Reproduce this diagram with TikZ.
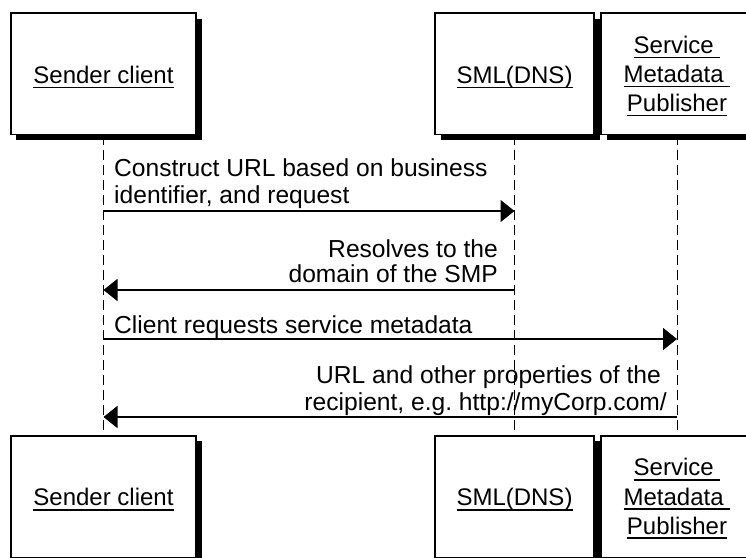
\documentclass[tikz,border=0pt]{standalone}
\usepackage{fontspec}
\setmainfont{Liberation Sans}
\usetikzlibrary{arrows.meta,shadows}
\frenchspacing
\newsavebox\ulsavebox
\newcommand\ulbox[1]{\sbox\ulsavebox{#1}\rlap{\rule[-4.75bp]{\wd\ulsavebox}{1.5bp}}\usebox\ulsavebox}
\newcommand\msgfont{\fontsize{24.6bp}{27bp}\selectfont}
\newcommand\boxfont{\fontsize{24bp}{29.2bp}\selectfont}
\tikzset{
 actor/.style={draw, line width=1.5bp, fill=white, inner sep=0pt, outer sep=0pt,
   minimum height=121.5bp, font=\boxfont, align=center, text height=18.6bp, text depth=0bp,
   drop shadow={shadow xshift=5.5bp, shadow yshift=-5.5bp, fill=black, opacity=1}},
 actor3/.style={actor, text height=75.4bp, text depth=0bp},
 lifeline/.style={line width=1bp, dash pattern=on 10bp off 5bp},
 msg/.style={line width=1.5bp, -{Triangle[length=14bp,width=22bp]}},
 msglabel/.style={font=\msgfont, inner sep=0pt},
}
\begin{document}
\begin{tikzpicture}[x=1bp,y=-1bp]
\useasboundingbox (0,0) rectangle (746,558);
\fill[white] (0,0) rectangle (746,558);
\clip (0,0) rectangle (746,558);
% actors top
\node[actor, minimum width=185bp] (sTop) at (103.5,74) {\ulbox{Sender client}};
\node[actor, minimum width=159bp] (dTop) at (514.5,74) {\ulbox{SML(DNS)}};
\node[actor3, minimum width=152bp] (pTop) at (677,74) {\ulbox{Service\ }\\\ulbox{Metadata\ }\\\ulbox{Publisher}};
% actors bottom
\node[actor, minimum width=185bp] (sBot) at (103.5,496.5) {\ulbox{Sender client}};
\node[actor, minimum width=159bp] (dBot) at (514.5,496.5) {\ulbox{SML(DNS)}};
\node[actor3, minimum width=152bp] (pBot) at (677,496.5) {\ulbox{Service\ }\\\ulbox{Metadata\ }\\\ulbox{Publisher}};
% lifelines
\draw[lifeline] (sTop.south) -- (sBot.north);
\draw[lifeline] (dTop.south) -- (dBot.north);
\draw[lifeline] (pTop.south) -- (pBot.north);
% messages
\node[msglabel, anchor=base west, align=left] (l1) at (114,204) {Construct URL based on business\\identifier, and request};
\draw[msg] (sTop.south |- 0,211) -- (dTop.south |- 0,211);
\node[msglabel, anchor=base east, align=right] (l2) at (498,283) {Resolves to the\\[-2bp]domain of the SMP};
\draw[msg] (dTop.south |- 0,290) -- (sTop.south |- 0,290);
\node[msglabel, anchor=base west] (l3) at (114,333) {Client requests service metadata};
\draw[msg] (sTop.south |- 0,339) -- (pTop.south |- 0,339);
\node[msglabel, anchor=base east, align=right] (l4) at (667,410) {URL and other properties of the\hspace*{6bp}\\recipient, e.g. http://myCorp.com/};
\draw[msg] (pTop.south |- 0,417) -- (sTop.south |- 0,417);
\end{tikzpicture}
\end{document}
